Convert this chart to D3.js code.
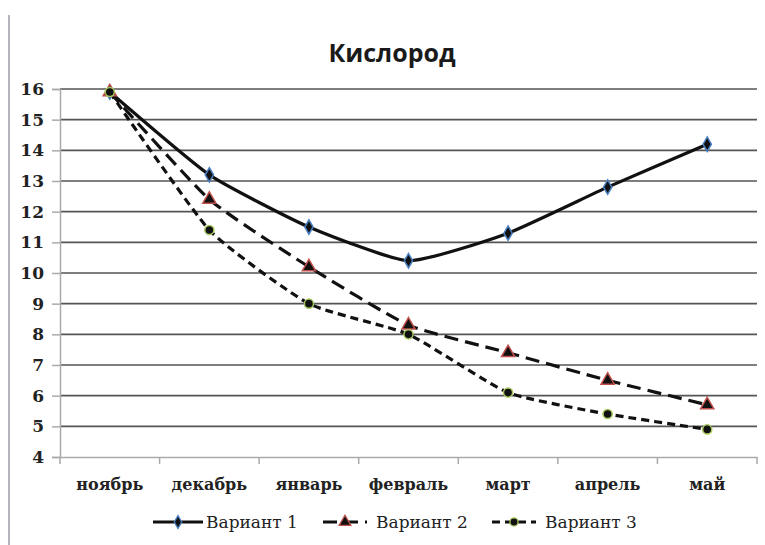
<!DOCTYPE html>
<html><head><meta charset="utf-8">
<script src="https://cdn.jsdelivr.net/npm/d3@7"></script>
<style>body{margin:0;background:#fff}</style>
</head><body>
<svg id="c" width="765" height="545"></svg>
<script>
const months = ["ноябрь","декабрь","январь","февраль","март","апрель","май"];
const variant1 = [15.9, 13.2, 11.5, 10.4, 11.3, 12.8, 14.2];
const variant2 = [15.9, 12.4, 10.2, 8.3, 7.4, 6.5, 5.7];
const variant3 = [15.9, 11.4, 9.0, 8.0, 6.1, 5.4, 4.9];
const seriesNames = ["Вариант 1","Вариант 2","Вариант 3"];
const yTicks = [4,5,6,7,8,9,10,11,12,13,14,15,16];
const title = "Кислород";

const svg = d3.select("#c");
const L = 60, R = 757, T = 89, B = 457;
const x = d3.scaleBand().domain(months).range([L, R]);
const y = d3.scaleLinear().domain([4, 16]).range([B, T]);
const SERIF = "DejaVu Serif";

svg.append("line").attr("x1",9).attr("x2",9).attr("y1",15).attr("y2",545)
  .attr("stroke","#b4b4bc").attr("stroke-width",2);

svg.append("text").attr("x",392).attr("y",62).attr("text-anchor","middle")
  .attr("font-family","Open Sans").attr("font-weight","bold")
  .attr("font-size",25).attr("fill","#1a1a1a").text(title);

svg.append("g").selectAll("line").data(yTicks.filter(d=>d>4)).join("line")
  .attr("x1",L).attr("x2",R).attr("y1",d=>y(d)).attr("y2",d=>y(d))
  .attr("stroke","#555").attr("stroke-width",1.6);

const ya = svg.append("g").attr("transform",`translate(${L},0)`)
  .call(d3.axisLeft(y).tickValues(yTicks).tickSize(8).tickPadding(8).tickFormat(d3.format("d")));
ya.attr("font-family",SERIF).attr("font-size",17).attr("font-weight","bold");
ya.select(".domain").attr("stroke","#aaa").attr("stroke-width",1.5);
ya.selectAll(".tick line").attr("stroke","#aaa").attr("stroke-width",1.5);
ya.selectAll("text").attr("fill","#222");

const xa = svg.append("g").attr("transform",`translate(0,${B})`)
  .call(d3.axisBottom(x).tickSize(0).tickPadding(22));
xa.attr("font-family",SERIF).attr("font-size",16).attr("font-weight","bold");
xa.select(".domain").attr("stroke","#aaa").attr("stroke-width",1.5);
xa.selectAll("text").attr("fill","#222");
const bounds = months.map(m=>x(m)).concat([R]);
xa.append("g").selectAll("line").data(bounds).join("line")
  .attr("x1",d=>d).attr("x2",d=>d).attr("y1",0).attr("y2",7)
  .attr("stroke","#aaa").attr("stroke-width",1.5);

const cx = m => x(m) + x.bandwidth()/2;
const series = [
  {name:seriesNames[0], vals:variant1, dash:null, sym:d3.symbolDiamond, size:60, stroke:"#4a7fc0"},
  {name:seriesNames[1], vals:variant2, dash:"14,7", sym:d3.symbolTriangle, size:75, stroke:"#c0504d"},
  {name:seriesNames[2], vals:variant3, dash:"8,5", sym:d3.symbolCircle, size:65, stroke:"#a8c860"}
];
const line = d3.line().x((d,i)=>cx(months[i])).y(d=>y(d)).curve(d3.curveCardinal.tension(0.5));

series.forEach(s=>{
  svg.append("path").attr("d",line(s.vals)).attr("fill","none")
    .attr("stroke","#111").attr("stroke-width",3.2)
    .attr("stroke-dasharray",s.dash);
});
series.forEach(s=>{
  svg.append("g").selectAll("path").data(s.vals).join("path")
    .attr("transform",(d,i)=>`translate(${cx(months[i])},${y(d)})`)
    .attr("d",d3.symbol().type(s.sym).size(s.size))
    .attr("fill","#111").attr("stroke",s.stroke).attr("stroke-width",1.5);
});

const legX = [153, 323, 492];
const lg = svg.append("g");
series.forEach((s,i)=>{
  const g = lg.append("g").attr("transform",`translate(${legX[i]},522)`);
  g.append("line").attr("x1",0).attr("x2",i==0?50:44).attr("y1",0).attr("y2",0)
    .attr("stroke","#111").attr("stroke-width",3.2).attr("stroke-dasharray",s.dash);
  g.append("path").attr("transform",`translate(${i==0?25:22},0)`)
    .attr("d",d3.symbol().type(s.sym).size(s.size*0.8))
    .attr("fill","#111").attr("stroke",s.stroke).attr("stroke-width",1.3);
  g.append("text").attr("x",53).attr("y",6)
    .attr("font-family",SERIF).attr("font-size",17).attr("fill","#222")
    .text(s.name);
});
</script>
</body></html>
